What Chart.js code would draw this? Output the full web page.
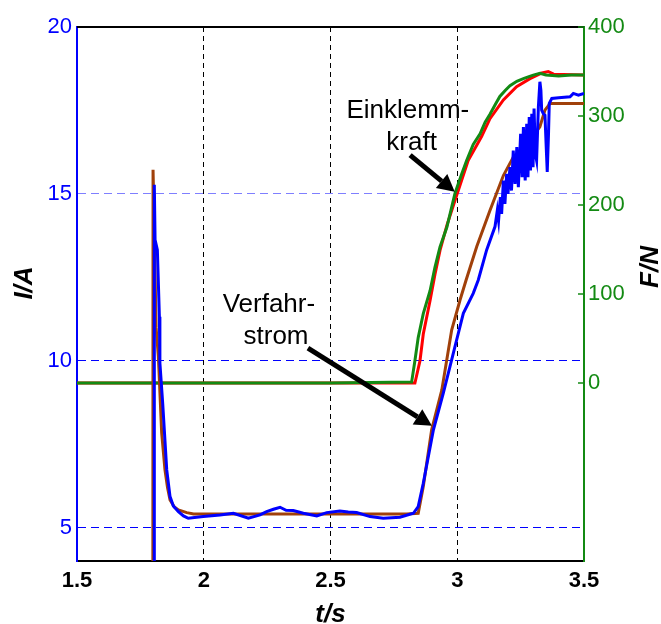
<!DOCTYPE html>
<html>
<head>
<meta charset="utf-8">
<script src="https://cdn.jsdelivr.net/npm/chart.js@4.4.1/dist/chart.umd.min.js"></script>
<style>
  body { margin: 0; background: #ffffff; }
  #wrap { width: 661px; height: 624px; }
</style>
</head>
<body>
<div id="wrap"><canvas id="c" width="661" height="624"></canvas></div>
<script>
// Sollstrom (brown), left axis I/A
const tSoll = [1.799, 1.800, 1.805, 1.812, 1.821, 1.834, 1.847, 1.857, 1.867, 1.884, 1.900, 1.933, 1.960, 2.20, 2.50, 2.80,
  2.846, 2.866, 2.899, 2.939, 2.978, 3.011, 3.035, 3.077, 3.129, 3.182, 3.221, 3.261, 3.300, 3.326, 3.346, 3.366, 3.50];
const iSoll = [0, 15.72, 13.8, 11.0, 10.12, 7.84, 6.73, 6.2, 5.83, 5.62, 5.53, 5.45, 5.41, 5.41, 5.41, 5.41,
  5.43, 6.23, 7.93, 9.12, 10.92, 11.82, 12.42, 13.42, 14.5, 15.55, 16.1, 16.35, 16.75, 17.01, 17.51, 17.71, 17.71];

// Verfahrstrom gemessen (blue), left axis I/A
const tIst = [1.804, 1.805, 1.808, 1.817, 1.825, 1.827, 1.838, 1.854, 1.867, 1.880, 1.900, 1.920, 1.939, 1.998, 2.064,
  2.117, 2.176, 2.222, 2.248, 2.275, 2.301, 2.325, 2.353, 2.393, 2.446, 2.485, 2.537, 2.570, 2.603, 2.656, 2.708,
  2.774, 2.827, 2.846, 2.866, 2.906, 2.945, 2.991, 3.024, 3.063, 3.083, 3.116, 3.149,
  3.158, 3.163, 3.170, 3.175, 3.182, 3.188, 3.195, 3.200, 3.208, 3.214, 3.221, 3.228, 3.235, 3.241, 3.250, 3.256,
  3.261, 3.268, 3.274, 3.279, 3.284, 3.289, 3.294, 3.299, 3.303, 3.308, 3.313, 3.320, 3.326, 3.330, 3.333, 3.340,
  3.346, 3.351, 3.355, 3.360, 3.363, 3.373, 3.400, 3.445, 3.458, 3.478, 3.500];
const iIst = [0, 15.27, 13.62, 13.32, 11.32, 9.93, 8.73, 6.73, 5.93, 5.65, 5.48, 5.35, 5.28, 5.33, 5.38,
  5.43, 5.28, 5.38, 5.48, 5.55, 5.61, 5.52, 5.51, 5.43, 5.35, 5.45, 5.50, 5.47, 5.45, 5.33, 5.28,
  5.31, 5.43, 5.63, 6.33, 7.93, 9.03, 10.42, 11.42, 12.02, 12.42, 13.32, 14.02,
  14.5, 14.2, 14.9, 14.4, 15.4, 14.7, 15.6, 15.0, 15.8, 15.1, 16.3, 15.3, 16.4, 15.2, 16.8, 15.5,
  17.0, 15.4, 17.1, 15.5, 17.3, 15.7, 17.4, 15.8, 17.56, 16.2, 16.0, 17.6, 18.36, 18.1, 17.51, 17.4,
  17.36, 16.4, 15.66, 16.8, 17.71, 17.86, 17.88, 17.91, 18.01, 17.96, 18.01];

// Einklemmkraft (green), right axis F/N
const tKraftA = [1.5, 2.0, 2.5, 2.820, 2.833, 2.846, 2.866, 2.893, 2.912, 2.932, 2.959, 2.991, 3.015, 3.037, 3.063,
  3.090, 3.110, 3.129, 3.150, 3.168, 3.190, 3.208, 3.235, 3.261, 3.280, 3.300, 3.326, 3.350, 3.400, 3.450, 3.500];
const fKraftA = [0, 0, 0, 1, 25, 51, 78, 104, 130, 153, 175, 213, 233, 250, 268,
  280, 293, 302, 313, 322, 329, 334, 339, 342, 344, 346, 348, 346, 345, 346, 346];

// Einklemmkraft (red), right axis F/N
const tKraftB = [1.5, 2.0, 2.5, 2.833, 2.853, 2.866, 2.893, 2.912, 2.932, 2.960, 2.991, 3.043, 3.096, 3.129, 3.182,
  3.234, 3.287, 3.330, 3.359, 3.380, 3.500];
const fKraftB = [0, 0, 0, 0, 25, 55, 93, 122, 149, 178, 205, 250, 277, 297, 318,
  333, 342, 348, 350, 347, 346];

const xTicks = [1.5, 2, 2.5, 3, 3.5];
const iTicks = [5, 10, 15, 20];
const fTicks = [0, 100, 200, 300, 400];

const pts = (ts, vs) => ts.map((t, i) => ({ x: t, y: vs[i] }));

const FONT = "'Liberation Sans', Arial, sans-serif";

// arrows + labels, axis titles, top border, right-axis inner ticks
const extras = {
  id: "extras",
  afterDatasetsDraw(chart) {
    const { ctx, chartArea: a, scales } = chart;
    const x = scales.x, yI = scales.yI, yF = scales.yF;
    ctx.save();

    // top border
    ctx.strokeStyle = "#000";
    ctx.lineWidth = 2;
    ctx.beginPath();
    ctx.moveTo(a.left, a.top);
    ctx.lineTo(a.right, a.top);
    ctx.stroke();

    // inner tick marks on right axis
    ctx.strokeStyle = "#138a13";
    ctx.lineWidth = 1.5;
    fTicks.forEach(v => {
      const py = yF.getPixelForValue(v);
      ctx.beginPath();
      ctx.moveTo(a.right - 6, py);
      ctx.lineTo(a.right, py);
      ctx.stroke();
    });

    // annotation text
    ctx.fillStyle = "#000";
    ctx.font = "26px " + FONT;
    ctx.textAlign = "center";
    ctx.textBaseline = "alphabetic";
    ctx.fillText("Einklemm-", x.getPixelForValue(2.805), yI.getPixelForValue(17.27));
    ctx.fillText("kraft", x.getPixelForValue(2.82), yI.getPixelForValue(16.31));
    ctx.fillText("Verfahr-", x.getPixelForValue(2.257), yI.getPixelForValue(11.46));
    ctx.fillText("strom", x.getPixelForValue(2.285), yI.getPixelForValue(10.50));

    const arrow = (t1, v1, t2, v2) => {
      const x1 = x.getPixelForValue(t1), y1 = yI.getPixelForValue(v1);
      const x2 = x.getPixelForValue(t2), y2 = yI.getPixelForValue(v2);
      const ang = Math.atan2(y2 - y1, x2 - x1);
      const hl = 17, hw = 9;
      const bx = x2 - hl * Math.cos(ang), by = y2 - hl * Math.sin(ang);
      ctx.strokeStyle = "#000";
      ctx.lineWidth = 5;
      ctx.beginPath();
      ctx.moveTo(x1, y1);
      ctx.lineTo(bx, by);
      ctx.stroke();
      ctx.beginPath();
      ctx.moveTo(x2, y2);
      ctx.lineTo(bx + hw * Math.sin(ang), by - hw * Math.cos(ang));
      ctx.lineTo(bx - hw * Math.sin(ang), by + hw * Math.cos(ang));
      ctx.closePath();
      ctx.fill();
    };
    arrow(2.814, 16.16, 2.99, 15.06);
    arrow(2.411, 10.38, 2.90, 8.05);

    // axis titles
    ctx.font = "italic bold 26px " + FONT;
    ctx.textAlign = "center";
    ctx.textBaseline = "middle";
    ctx.fillText("t/s", (a.left + a.right) / 2, a.bottom + 54);
    ctx.save();
    ctx.translate(a.left - 52, 283);
    ctx.rotate(-Math.PI / 2);
    ctx.fillText("I/A", 0, 0);
    ctx.restore();
    ctx.save();
    ctx.translate(a.right + 67, 267);
    ctx.rotate(-Math.PI / 2);
    ctx.fillText("F/N", 0, 0);
    ctx.restore();

    ctx.restore();
  }
};

new Chart(document.getElementById("c"), {
  type: "line",
  data: {
    // first dataset is drawn on top
    datasets: [
      { label: "I ist", data: pts(tIst, iIst), yAxisID: "yI", borderColor: "#0000ff", borderWidth: 3 },
      { label: "I soll", data: pts(tSoll, iSoll), yAxisID: "yI", borderColor: "#a0400a", borderWidth: 3 },
      { label: "F gruen", data: pts(tKraftA, fKraftA), yAxisID: "yF", borderColor: "#138a13", borderWidth: 3 },
      { label: "F rot", data: pts(tKraftB, fKraftB), yAxisID: "yF", borderColor: "#ff0000", borderWidth: 3 }
    ]
  },
  options: {
    responsive: false,
    animation: false,
    devicePixelRatio: 1,
    layout: { padding: { top: 27, left: 0, right: 0, bottom: 0 } },
    elements: { point: { radius: 0 }, line: { tension: 0 } },
    plugins: { legend: { display: false }, tooltip: { enabled: false } },
    scales: {
      x: {
        type: "linear",
        min: 1.5,
        max: 3.5,
        afterBuildTicks: s => { s.ticks = xTicks.map(v => ({ value: v })); },
        afterFit: s => { s.height = 63; },
        grid: {
          drawTicks: false,
          lineWidth: 1,
          color: c => (c.tick && (c.tick.value === 1.5 || c.tick.value === 3.5)) ? "rgba(0,0,0,0)" : "#000"
        },
        border: { display: true, color: "#000", width: 2, dash: [5, 4] },
        ticks: {
          color: "#000", padding: 7,
          font: { family: FONT, size: 22, weight: "bold" },
          callback: v => String(v)
        }
      },
      yI: {
        type: "linear",
        position: "left",
        min: 4,
        max: 20,
        afterBuildTicks: s => { s.ticks = iTicks.map(v => ({ value: v })); },
        afterFit: s => { s.width = 77; },
        grid: {
          drawTicks: false,
          lineWidth: 1,
          color: c => {
            if (!c.tick) return "#0000ff";
            if (c.tick.value === 20) return "rgba(0,0,0,0)";
            return c.tick.value === 15 ? "#7f7fff" : "#0000ff";
          }
        },
        border: { display: true, color: "#0000ff", width: 2, dash: [8, 5] },
        ticks: { color: "#0000ff", padding: 5, font: { family: FONT, size: 22 } }
      },
      yF: {
        type: "linear",
        position: "right",
        min: -200,
        max: 400,
        afterBuildTicks: s => { s.ticks = fTicks.map(v => ({ value: v })); },
        afterFit: s => { s.width = 77; },
        grid: { drawOnChartArea: false, drawTicks: false },
        border: { display: true, color: "#138a13", width: 2 },
        ticks: { color: "#138a13", padding: 4, font: { family: FONT, size: 22 } }
      }
    }
  },
  plugins: [extras]
});
</script>
</body>
</html>
